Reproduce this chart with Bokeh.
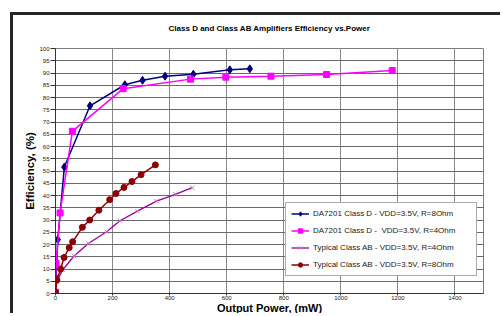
from bokeh.plotting import figure
from bokeh.models import Range1d, FixedTicker, Legend, LegendItem, LinearAxis
from bokeh.embed import file_html
from bokeh.resources import INLINE

# ---- data ----
d_8ohm_x = [2, 8, 31, 121, 243, 305, 384, 483, 611, 681]
d_8ohm_y = [6.4, 22, 51.6, 76.6, 85.2, 87.0, 88.7, 89.5, 91.3, 91.7]

d_4ohm_x = [0, 2, 16, 59, 237, 473, 597, 755, 950, 1180]
d_4ohm_y = [0.5, 12.3, 32.9, 66.2, 83.6, 87.5, 88.3, 88.7, 89.4, 91.0]

ab_4ohm_x = [0, 4, 25, 65, 115, 179, 226, 287, 354, 420, 479]
ab_4ohm_y = [0.5, 4.8, 9.6, 15.3, 20.4, 25.2, 29.7, 33.6, 37.7, 40.5, 43.2]

ab_8ohm_x = [0, 5, 18, 30, 48, 60, 94, 120, 152, 190, 212, 240, 268, 300, 350]
ab_8ohm_y = [0.5, 5.5, 10.0, 14.7, 18.7, 21.1, 27.0, 30.0, 34.0, 38.3, 40.8, 43.3, 45.7, 48.5, 52.5]

x_ticks = [0, 200, 400, 600, 800, 1000, 1200, 1400]
y_ticks = list(range(0, 101, 5))

title_text = "Class D and Class AB Amplifiers Efficiency vs.Power"
labels = [
    "DA7201 Class D - VDD=3.5V, R=8Ohm",
    "DA7201 Class D -  VDD=3.5V, R=4Ohm",
    "Typical Class AB - VDD=3.5V, R=4Ohm",
    "Typical Class AB - VDD=3.5V, R=8Ohm",
]

FONT = "Liberation Sans"

p = figure(width=490, height=301, output_backend="svg", toolbar_location=None,
           x_range=Range1d(0, 1500), y_range=Range1d(0, 100),
           min_border_left=42, min_border_right=20, min_border_top=33, min_border_bottom=22,
           background_fill_color="white", border_fill_color="white")

# chart-area frame: dark border at left and top, running off the page
p.styles = {"border-left": "3px solid #262626", "border-top": "3px solid #262626",
            "margin-left": "10px", "margin-top": "12px"}

xa = p.below[0]
ya = p.left[0]

# chart title, carried by a tick-less axis above the plot area
top_axis = LinearAxis(ticker=FixedTicker(ticks=[]), axis_label=title_text)
top_axis.axis_line_color = None
top_axis.major_tick_line_color = None
top_axis.minor_tick_line_color = None
top_axis.major_tick_out = 0
top_axis.major_label_standoff = 0
top_axis.axis_label_standoff = 16
top_axis.axis_label_text_font = FONT
top_axis.axis_label_text_font_size = "8px"
top_axis.axis_label_text_font_style = "bold"
top_axis.axis_label_text_color = "#000000"
p.add_layout(top_axis, "above")

p.outline_line_color = "#7f7f7f"
p.outline_line_width = 1

for ax in (xa, ya):
    ax.major_label_text_font = FONT
    ax.major_label_text_font_size = "6px"
    ax.major_label_text_color = "#222222"
    ax.axis_label_text_font = FONT
    ax.axis_label_text_font_style = "bold"
    ax.axis_label_text_color = "#000000"
    ax.minor_tick_line_color = None
    ax.axis_line_color = "#333333"
    ax.major_tick_line_color = "#333333"
    ax.major_tick_in = 0

xa.ticker = FixedTicker(ticks=x_ticks)
ya.ticker = FixedTicker(ticks=y_ticks)
xa.axis_label = "Output Power, (mW)"
ya.axis_label = "Efficiency, (%)"
xa.axis_label_text_font_size = "11px"
ya.axis_label_text_font_size = "11.5px"
xa.major_tick_out = 2
ya.major_tick_out = 5
xa.major_label_standoff = 0
ya.major_label_standoff = 1
xa.axis_label_standoff = -1
ya.axis_label_standoff = 0

p.xgrid.ticker = FixedTicker(ticks=x_ticks)
p.ygrid.ticker = FixedTicker(ticks=y_ticks)
p.xgrid.grid_line_color = "#8a8a8a"
p.ygrid.grid_line_color = "#6a6a6a"
p.xgrid.grid_line_width = 1
p.ygrid.grid_line_width = 1

c_blue, c_pink, c_purple, c_red = "#000080", "#FF00FF", "#990099", "#8B0000"

r1l = p.line(d_8ohm_x, d_8ohm_y, line_color=c_blue, line_width=1.5)
r1m = p.scatter(d_8ohm_x, d_8ohm_y, marker="diamond", size=8, fill_color=c_blue, line_color=c_blue)

r2l = p.line(d_4ohm_x, d_4ohm_y, line_color=c_pink, line_width=1.5)
r2m = p.scatter(d_4ohm_x, d_4ohm_y, marker="square", size=6, fill_color=c_pink, line_color=c_pink)

r3l = p.line(ab_4ohm_x, ab_4ohm_y, line_color=c_purple, line_width=1.3)
r3m = p.scatter(ab_4ohm_x, ab_4ohm_y, marker="x", size=6, line_color="#cc77cc", line_width=1)

r4l = p.line(ab_8ohm_x, ab_8ohm_y, line_color=c_red, line_width=1.5)
r4m = p.scatter(ab_8ohm_x, ab_8ohm_y, marker="circle", size=6, fill_color=c_red, line_color=c_red)

legend = Legend(items=[
    LegendItem(label=labels[0], renderers=[r1l, r1m]),
    LegendItem(label=labels[1], renderers=[r2l, r2m]),
    LegendItem(label=labels[2], renderers=[r3l, r3m]),
    LegendItem(label=labels[3], renderers=[r4l, r4m]),
], location=(230, 17))
legend.label_text_font = FONT
legend.label_text_font_size = "8px"
legend.label_text_color = "#222222"
legend.glyph_width = 18
legend.glyph_height = 11
legend.label_height = 11
legend.label_width = 158
legend.spacing = 6
legend.padding = 5
legend.margin = 0
legend.label_standoff = 4
legend.border_line_color = "#555555"
legend.border_line_width = 1
legend.background_fill_color = "white"
legend.background_fill_alpha = 1
p.add_layout(legend)

open("out.html", "w").write(file_html(p, INLINE))
